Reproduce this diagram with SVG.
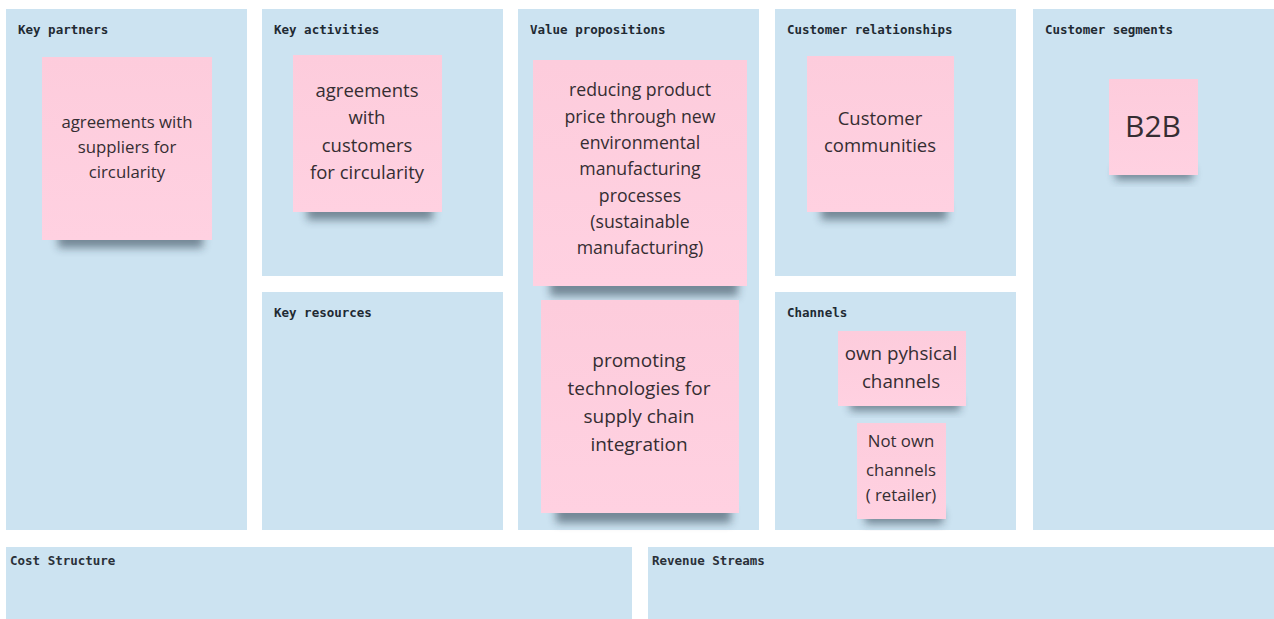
<svg xmlns="http://www.w3.org/2000/svg" width="1274" height="619" viewBox="0 0 1274 619">
<defs>
<filter id="blur" x="-20%" y="-50%" width="140%" height="200%"><feGaussianBlur stdDeviation="4"/></filter>
<linearGradient id="stk" x1="0" y1="0" x2="0" y2="1"><stop offset="0" stop-color="#fdccdc"/><stop offset="1" stop-color="#ffd1e1"/></linearGradient>
</defs>
<style>
.panel{fill:#cce3f1}
.title{font-family:"DejaVu Sans Mono","Liberation Mono",monospace;font-size:12.5px;font-weight:bold;fill:#1f2a33}
.title2{font-family:"DejaVu Sans Mono","Liberation Mono",monospace;font-size:12.5px;font-weight:bold;fill:#2a3038}
.sticky{fill:url(#stk)}
.shadow{fill:#1e2e3e;opacity:0.5;filter:url(#blur)}
.t{font-family:"Open Sans","Noto Sans",sans-serif;fill:#352d32;text-anchor:middle}
</style>
<rect width="1274" height="619" fill="#ffffff"/>

<g id="key-partners">
<rect class="panel" x="6" y="9" width="241" height="521"/>
<text class="title" x="18" y="34">Key partners</text>
</g>
<g id="key-activities">
<rect class="panel" x="262" y="9" width="241" height="267"/>
<text class="title" x="274" y="34">Key activities</text>
</g>
<g id="key-resources">
<rect class="panel" x="262" y="292" width="241" height="238"/>
<text class="title" x="274" y="317">Key resources</text>
</g>
<g id="value-propositions">
<rect class="panel" x="518" y="9" width="241" height="521"/>
<text class="title" x="530" y="34">Value propositions</text>
</g>
<g id="customer-relationships">
<rect class="panel" x="775" y="9" width="241" height="267"/>
<text class="title" x="787" y="34">Customer relationships</text>
</g>
<g id="channels">
<rect class="panel" x="775" y="292" width="241" height="238"/>
<text class="title" x="787" y="317">Channels</text>
</g>
<g id="customer-segments">
<rect class="panel" x="1033" y="9" width="241" height="521"/>
<text class="title" x="1045" y="34">Customer segments</text>
</g>
<g id="cost-structure">
<rect class="panel" x="6" y="547" width="626" height="72"/>
<text class="title2" x="10" y="565">Cost Structure</text>
</g>
<g id="revenue-streams">
<rect class="panel" x="648" y="547" width="626" height="72"/>
<text class="title2" x="652" y="565">Revenue Streams</text>
</g>

<g id="connectors"></g>

<g id="note-suppliers">
<rect class="shadow" x="58" y="230" width="145" height="18"/>
<rect class="sticky" x="42" y="57" width="170" height="183"/>
<text class="t" font-size="16.8"><tspan x="127" y="128">agreements with</tspan><tspan x="127" y="153">suppliers for</tspan><tspan x="127" y="178">circularity</tspan></text>
</g>
<g id="note-customers">
<rect class="shadow" x="307" y="202" width="126" height="18"/>
<rect class="sticky" x="293" y="55" width="149" height="157"/>
<text class="t" font-size="18.5"><tspan x="367" y="97">agreements</tspan><tspan x="367" y="124">with</tspan><tspan x="367" y="152">customers</tspan><tspan x="367" y="179">for circularity</tspan></text>
</g>
<g id="note-price">
<rect class="shadow" x="550" y="276" width="188" height="20"/>
<rect class="sticky" x="533" y="60" width="214" height="226"/>
<text class="t" font-size="17.7"><tspan x="640" y="96">reducing product</tspan><tspan x="640" y="123">price through new</tspan><tspan x="640" y="149">environmental</tspan><tspan x="640" y="175">manufacturing</tspan><tspan x="640" y="202">processes</tspan><tspan x="640" y="228">(sustainable</tspan><tspan x="640" y="254">manufacturing)</tspan></text>
</g>
<g id="note-supply">
<rect class="shadow" x="556" y="503" width="175" height="20"/>
<rect class="sticky" x="541" y="300" width="198" height="213"/>
<text class="t" font-size="19"><tspan x="639" y="367">promoting</tspan><tspan x="639" y="395">technologies for</tspan><tspan x="639" y="423">supply chain</tspan><tspan x="639" y="451">integration</tspan></text>
</g>
<g id="note-communities">
<rect class="shadow" x="821" y="202" width="126" height="18"/>
<rect class="sticky" x="807" y="56" width="147" height="156"/>
<text class="t" font-size="18.5"><tspan x="880" y="125">Customer</tspan><tspan x="880" y="152">communities</tspan></text>
</g>
<g id="note-b2b">
<rect class="shadow" x="1115" y="167" width="78" height="13"/>
<rect class="sticky" x="1109" y="79" width="89" height="96"/>
<text class="t" font-size="30" fill="#2b2428"><tspan x="1153" y="137">B2B</tspan></text>
</g>
<g id="note-own">
<rect class="shadow" x="850" y="397" width="110" height="14"/>
<rect class="sticky" x="838" y="331" width="128" height="75"/>
<text class="t" font-size="18.8"><tspan x="901" y="360">own pyhsical</tspan><tspan x="901" y="388">channels</tspan></text>
</g>
<g id="note-notown">
<rect class="shadow" x="865" y="510" width="78" height="14"/>
<rect class="sticky" x="857" y="423" width="89" height="96"/>
<text class="t" font-size="16.8"><tspan x="901" y="447">Not own</tspan><tspan x="901" y="476">channels</tspan><tspan x="901" y="501">( retailer)</tspan></text>
</g>
</svg>
